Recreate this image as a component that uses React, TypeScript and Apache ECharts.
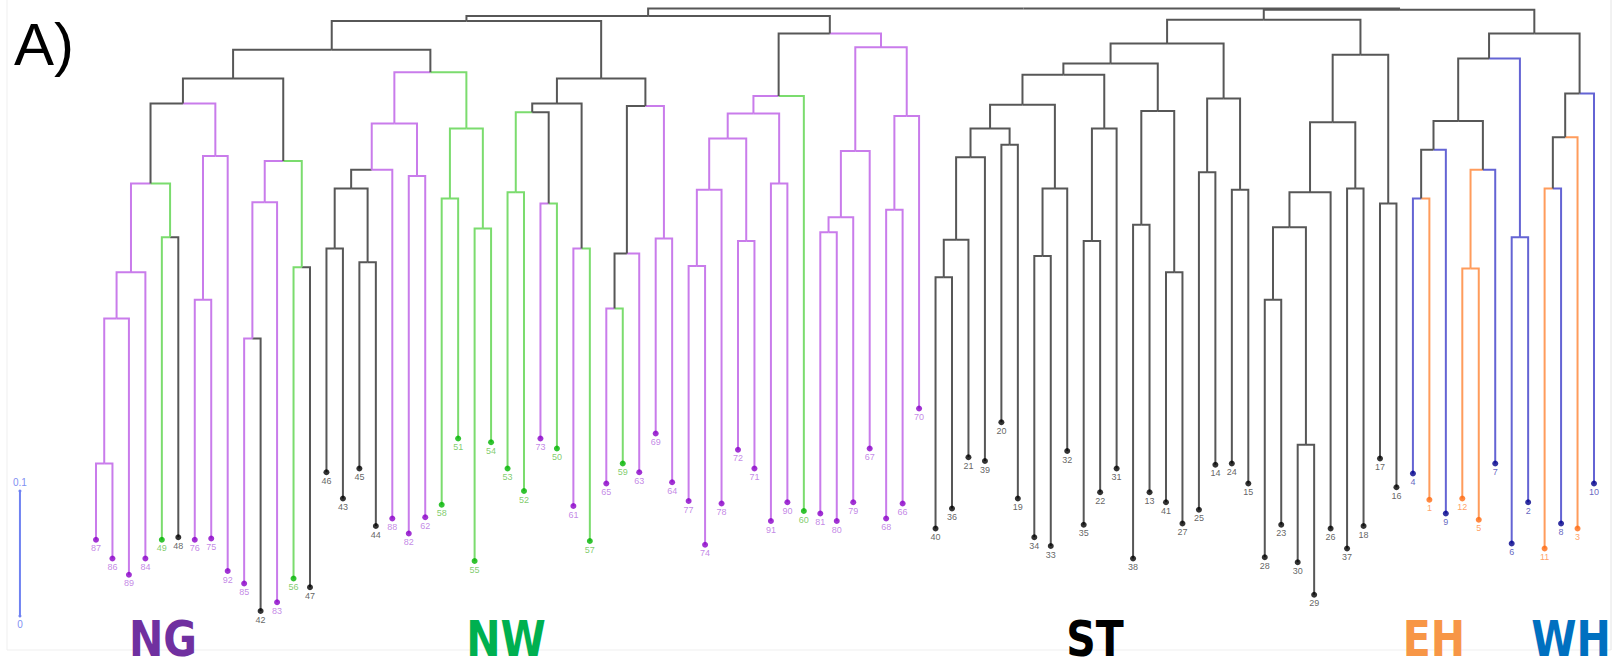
import React, { useEffect, useRef } from "react";
import * as echarts from "echarts";

// leaves, left to right
const leafLabels = [
  87, 86, 89, 84, 49, 48, 76, 75, 92, 85, 42, 83, 56, 47, 46, 43, 45, 44, 88, 82,
  62, 58, 51, 55, 54, 53, 52, 73, 50, 61, 57, 65, 59, 63, 69, 64, 77, 74, 78, 72,
  71, 91, 90, 60, 81, 80, 79, 67, 68, 66, 70, 40, 36, 21, 39, 20, 19, 34, 33, 32,
  35, 22, 31, 38, 13, 41, 27, 25, 14, 24, 15, 28, 23, 30, 29, 26, 37, 18, 17, 16,
  4, 1, 9, 12, 5, 7, 6, 2, 11, 8, 3, 10,
];
// height of each leaf tip (distance units, scale bar = 0.1)
const leafHeights = [
  0.061, 0.046, 0.033, 0.046, 0.061, 0.063, 0.061, 0.062, 0.036, 0.026,
  0.004, 0.011, 0.030, 0.023, 0.115, 0.094, 0.118, 0.072, 0.078, 0.066,
  0.079, 0.089, 0.142, 0.044, 0.139, 0.118, 0.100, 0.142, 0.134, 0.088,
  0.060, 0.106, 0.122, 0.115, 0.146, 0.107, 0.092, 0.057, 0.090, 0.133,
  0.118, 0.076, 0.091, 0.084, 0.082, 0.076, 0.091, 0.134, 0.078, 0.090,
  0.166, 0.070, 0.086, 0.127, 0.124, 0.155, 0.094, 0.063, 0.056, 0.132,
  0.073, 0.099, 0.118, 0.046, 0.099, 0.091, 0.074, 0.085, 0.121, 0.122,
  0.106, 0.047, 0.073, 0.043, 0.017, 0.070, 0.054, 0.072, 0.126, 0.103,
  0.114, 0.093, 0.082, 0.094, 0.077, 0.122, 0.058, 0.091, 0.054, 0.074,
  0.070, 0.106,
];
// p = purple, g = green, k = black, o = orange, b = blue
const leafGroups = [
  "p", "p", "p", "p", "g", "k", "p", "p", "p", "p", "k", "p", "g", "k", "k", "k", "k", "k", "p", "p",
  "p", "g", "g", "g", "g", "g", "g", "p", "g", "p", "g", "p", "g", "p", "p", "p", "p", "p", "p", "p",
  "p", "p", "p", "g", "p", "p", "p", "p", "p", "p", "p", "k", "k", "k", "k", "k", "k", "k", "k", "k",
  "k", "k", "k", "k", "k", "k", "k", "k", "k", "k", "k", "k", "k", "k", "k", "k", "k", "k", "k", "k",
  "b", "o", "b", "o", "o", "b", "b", "b", "o", "b", "o", "b",
];
// merges: [node, left child, right child, height, colour of node's own branch]
const merges: [string, string, string, number, string][] = [
  ["n1", "87", "86", 0.122, "p"],
  ["n2", "n1", "89", 0.238, "p"],
  ["n3", "n2", "84", 0.275, "p"],
  ["n4", "49", "48", 0.303, "g"],
  ["n5", "n3", "n4", 0.346, "k"],
  ["n6", "76", "75", 0.253, "p"],
  ["n7", "n6", "92", 0.368, "p"],
  ["n8", "n5", "n7", 0.41, "k"],
  ["n9", "85", "42", 0.222, "p"],
  ["n10", "n9", "83", 0.331, "p"],
  ["n11", "56", "47", 0.279, "g"],
  ["n12", "n10", "n11", 0.364, "k"],
  ["n13", "n8", "n12", 0.43, "k"],
  ["n14", "46", "43", 0.294, "k"],
  ["n15", "45", "44", 0.283, "k"],
  ["n16", "n14", "n15", 0.342, "k"],
  ["n17", "n16", "88", 0.357, "p"],
  ["n18", "82", "62", 0.352, "p"],
  ["n19", "n17", "n18", 0.394, "p"],
  ["n20", "58", "51", 0.334, "g"],
  ["n21", "55", "54", 0.31, "g"],
  ["n22", "n20", "n21", 0.39, "g"],
  ["n23", "n19", "n22", 0.435, "k"],
  ["n24", "n13", "n23", 0.453, "k"],
  ["n25", "53", "52", 0.339, "g"],
  ["n26", "73", "50", 0.33, "k"],
  ["n27", "n25", "n26", 0.403, "k"],
  ["n28", "61", "57", 0.294, "k"],
  ["n29", "n27", "n28", 0.41, "k"],
  ["n30", "65", "59", 0.246, "k"],
  ["n31", "n30", "63", 0.29, "k"],
  ["n32", "69", "64", 0.302, "p"],
  ["n33", "n31", "n32", 0.408, "k"],
  ["n34", "n29", "n33", 0.43, "k"],
  ["n35", "n24", "n34", 0.476, "k"],
  ["n36", "77", "74", 0.28, "p"],
  ["n37", "n36", "78", 0.341, "p"],
  ["n38", "72", "71", 0.3, "p"],
  ["n39", "n37", "n38", 0.382, "p"],
  ["n40", "91", "90", 0.346, "p"],
  ["n41", "n39", "n40", 0.402, "p"],
  ["n42", "n41", "60", 0.416, "k"],
  ["n43", "81", "80", 0.307, "p"],
  ["n44", "n43", "79", 0.319, "p"],
  ["n45", "n44", "67", 0.372, "p"],
  ["n46", "68", "66", 0.325, "p"],
  ["n47", "n46", "70", 0.4, "p"],
  ["n48", "n45", "n47", 0.455, "p"],
  ["n49", "n42", "n48", 0.466, "k"],
  ["n50", "n35", "n49", 0.48, "k"],
  ["n51", "40", "36", 0.271, "k"],
  ["n52", "n51", "21", 0.301, "k"],
  ["n53", "n52", "39", 0.367, "k"],
  ["n54", "20", "19", 0.377, "k"],
  ["n55", "n53", "n54", 0.39, "k"],
  ["n56", "34", "33", 0.288, "k"],
  ["n57", "n56", "32", 0.342, "k"],
  ["n58", "n55", "n57", 0.409, "k"],
  ["n59", "35", "22", 0.3, "k"],
  ["n60", "n59", "31", 0.39, "k"],
  ["n61", "n58", "n60", 0.433, "k"],
  ["n62", "38", "13", 0.313, "k"],
  ["n63", "41", "27", 0.275, "k"],
  ["n64", "n62", "n63", 0.404, "k"],
  ["n65", "n61", "n64", 0.442, "k"],
  ["n66", "25", "14", 0.355, "k"],
  ["n67", "24", "15", 0.341, "k"],
  ["n68", "n66", "n67", 0.414, "k"],
  ["n69", "n65", "n68", 0.458, "k"],
  ["n70", "28", "23", 0.253, "k"],
  ["n71", "30", "29", 0.137, "k"],
  ["n72", "n70", "n71", 0.311, "k"],
  ["n73", "n72", "26", 0.339, "k"],
  ["n74", "37", "18", 0.342, "k"],
  ["n75", "n73", "n74", 0.395, "k"],
  ["n76", "17", "16", 0.33, "k"],
  ["n77", "n75", "n76", 0.449, "k"],
  ["n78", "n69", "n77", 0.477, "k"],
  ["n79", "4", "1", 0.334, "k"],
  ["n80", "n79", "9", 0.373, "k"],
  ["n81", "12", "5", 0.278, "o"],
  ["n82", "n81", "7", 0.357, "k"],
  ["n83", "n80", "n82", 0.396, "k"],
  ["n84", "6", "2", 0.303, "b"],
  ["n85", "n83", "n84", 0.446, "k"],
  ["n86", "11", "8", 0.342, "k"],
  ["n87", "n86", "3", 0.383, "k"],
  ["n88", "n87", "10", 0.418, "k"],
  ["n89", "n85", "n88", 0.466, "k"],
  ["n90", "n78", "n89", 0.485, "k"],
  ["root", "n50", "n90", 0.486, "k"],
];
const groupNames = ["NG", "NW", "ST", "EH", "WH"];
const groupColors = ["#7030A0", "#00B050", "#000000", "#F79646", "#0070C0"];
const groupCenters = [163, 506, 1095, 1434, 1571];
const scaleBarValues = [0, 0.1];

const lineColors: Record<string, string> = { p: "#C97CEB", g: "#7BDC6E", k: "#575757", o: "#FF9C5C", b: "#6464D4" };
const dotColors: Record<string, string> = { p: "#8A00C8", g: "#00B400", k: "#000000", o: "#FF6A10", b: "#00008B" };
const textColors: Record<string, string> = { p: "#B46AE0", g: "#62C048", k: "#3A3A3A", o: "#FF8A40", b: "#3C3CB0" };

export default function App() {
  const ref = useRef<HTMLDivElement>(null);
  useEffect(() => {
    document.body.style.margin = "0";
    if (!ref.current) return;
    const chart = echarts.init(ref.current, undefined, { renderer: "svg" });

    const nodes: Record<string, { x: number; h: number; c: string }> = {};
    leafLabels.forEach((lab, i) => {
      nodes[String(lab)] = { x: i, h: leafHeights[i], c: leafGroups[i] };
    });
    const branches: { px: number; cx: number; ph: number; ch: number; c: string }[] = [];
    merges.forEach(([name, l, r, h, c]) => {
      const L = nodes[l];
      const R = nodes[r];
      const x = (L.x + R.x) / 2;
      nodes[name] = { x, h, c };
      branches.push({ px: x, cx: L.x, ph: h, ch: L.h, c: L.c });
      branches.push({ px: x, cx: R.x, ph: h, ch: R.h, c: R.c });
    });

    const option: any = {
      animation: false,
      grid: { left: 13.69, right: 4.31, top: 3.5, bottom: 54 },
      xAxis: { type: "value", min: -5, max: 92.5, show: false },
      yAxis: { type: "value", min: 0, max: 0.49, show: false },
      graphic: [
        { type: "line", shape: { x1: 7, y1: 0, x2: 7, y2: 650 }, style: { stroke: "#EFEFEF", lineWidth: 1 } },
        { type: "line", shape: { x1: 7, y1: 650, x2: 1611, y2: 650 }, style: { stroke: "#EFEFEF", lineWidth: 1 } },
        { type: "line", shape: { x1: 1611, y1: 0, x2: 1611, y2: 650 }, style: { stroke: "#E4E4E4", lineWidth: 1 } },
        {
          type: "text",
          x: 14,
          y: 14,
          style: { text: "A)", font: '60px "Liberation Sans", Arial, sans-serif', fill: "#000", verticalAlign: "top", align: "left" },
        },
        ...groupNames.map((g, i) => ({
          type: "text",
          x: groupCenters[i],
          y: 639,
          scaleX: 0.95,
          scaleY: 1.04,
          style: {
            text: g,
            font: 'bold 48px "DejaVu Sans Condensed", "Liberation Sans Narrow", sans-serif',
            fill: groupColors[i],
            align: "center",
            verticalAlign: "middle",
          },
        })),
      ],
      series: [
        {
          type: "custom",
          data: branches.map((b) => [b.px, b.cx, b.ph, b.ch]),
          encode: { x: [0, 1], y: [2, 3] },
          renderItem: (params: any, api: any) => {
            const b = branches[params.dataIndex];
            const p1 = api.coord([api.value(0), api.value(2)]);
            const p2 = api.coord([api.value(1), api.value(2)]);
            const p3 = api.coord([api.value(1), api.value(3)]);
            return {
              type: "polyline",
              shape: { points: [p1, p2, p3] },
              style: { stroke: lineColors[b.c], lineWidth: 2, fill: "none" },
            };
          },
          z: 2,
        },
        {
          type: "scatter",
          symbol: "circle",
          symbolSize: 6,
          data: leafLabels.map((lab, i) => ({
            value: [i, leafHeights[i]],
            itemStyle: { color: dotColors[leafGroups[i]] },
            label: { color: textColors[leafGroups[i]] },
          })),
          label: {
            show: true,
            position: "bottom",
            distance: 1,
            fontSize: 9,
            fontFamily: '"Liberation Sans", Arial, sans-serif',
            formatter: (p: any) => String(leafLabels[p.dataIndex]),
          },
          z: 3,
        },
        {
          type: "line",
          data: scaleBarValues.map((v) => ({
            value: [-4.62, v],
            label: { position: v === 0 ? "bottom" : "top" },
          })),
          lineStyle: { color: "#6F82F2", width: 2 },
          itemStyle: { color: "#6F82F2" },
          symbol: "circle",
          symbolSize: 3,
          showSymbol: true,
          label: {
            show: true,
            distance: 2,
            fontSize: 10,
            color: "#7F90F2",
            fontFamily: '"Liberation Sans", Arial, sans-serif',
            formatter: (p: any) => String(p.value[1]),
          },
          z: 3,
        },
      ],
    };
    chart.setOption(option);
    return () => chart.dispose();
  }, []);
  return <div ref={ref} style={{ width: 1623, height: 670 }} />;
}
